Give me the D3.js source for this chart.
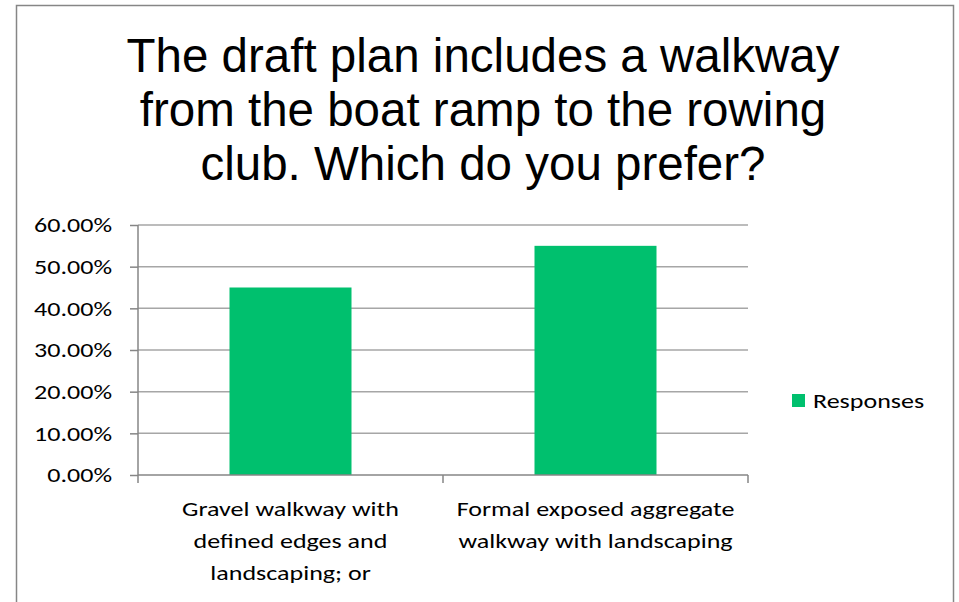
<!DOCTYPE html>
<html>
<head>
<meta charset="utf-8">
<script src="https://cdn.jsdelivr.net/npm/d3@7"></script>
<style>
  html, body { margin: 0; padding: 0; background: #fff; }
  svg { display: block; }
</style>
</head>
<body>
<svg id="chart" width="959" height="602"></svg>
<script>
const titleLines = ["The draft plan includes a walkway", "from the boat ramp to the rowing", "club. Which do you prefer?"];
const categories = ["Gravel walkway with defined edges and landscaping; or", "Formal exposed aggregate walkway with landscaping"];
const categoryLines = [["Gravel walkway with", "defined edges and", "landscaping; or"], ["Formal exposed aggregate", "walkway with landscaping"]];
const responses = [0.45, 0.55];
const yTicks = [0, 0.1, 0.2, 0.3, 0.4, 0.5, 0.6];
const seriesName = "Responses";

const svg = d3.select("#chart");
const labelFont = "Carlito, Calibri, Lato, 'Open Sans', sans-serif";
const labelSize = 21;
const hs = 1.24; // horizontal widening of label glyphs seen in the reference
const axisColor = "#868686";
const gridColor = "#a6a6a6";
const barColor = "#00c06e";

// outer border
svg.append("rect").attr("x", 16.5).attr("y", 5.5).attr("width", 937).attr("height", 610)
  .attr("fill", "#fff").attr("stroke", axisColor).attr("stroke-width", 1.5);

// title
const title = svg.append("text").attr("text-anchor", "middle")
  .attr("font-family", "'Liberation Sans', Arial, sans-serif").attr("font-size", 47.5).attr("fill", "#000");
titleLines.forEach((t, i) => {
  title.append("tspan").attr("x", 483).attr("y", 72 + i * 54).text(t);
});

const plotLeft = 138, plotRight = 748, plotTop = 225, plotBottom = 475;
const y = d3.scaleLinear().domain([0, 0.6]).range([plotBottom, plotTop]);
const x = d3.scaleBand().domain(categories).range([plotLeft, plotRight]).paddingInner(0.6).paddingOuter(0.3);

// gridlines
svg.append("g").selectAll("line").data(yTicks.filter(d => d > 0)).join("line")
  .attr("x1", plotLeft).attr("x2", plotRight)
  .attr("y1", d => y(d)).attr("y2", d => y(d))
  .attr("stroke", gridColor).attr("stroke-width", 1.5);

// bars
svg.append("g").selectAll("rect").data(responses).join("rect")
  .attr("x", (d, i) => x(categories[i]))
  .attr("width", x.bandwidth())
  .attr("y", d => y(d))
  .attr("height", d => y(0) - y(d))
  .attr("fill", barColor);

// y axis
const yAxis = d3.axisLeft(y).tickValues(yTicks).tickFormat(d3.format(".2%")).tickSize(8).tickPadding(0);
const gy = svg.append("g").attr("transform", `translate(${plotLeft},0)`).call(yAxis);
gy.select(".domain").attr("stroke", axisColor).attr("stroke-width", 1.5).attr("d", `M0,${plotTop}V${plotBottom}`);
gy.selectAll(".tick line").attr("stroke", axisColor).attr("stroke-width", 1.5);
gy.selectAll(".tick text")
  .attr("x", null)
  .attr("transform", `translate(-26,0) scale(${hs},1)`)
  .attr("font-family", labelFont).attr("font-size", labelSize).attr("fill", "#000");

// x axis
const xEdges = d3.scaleLinear().domain([0, categories.length]).range([plotLeft, plotRight]);
const gx = svg.append("g");
gx.append("line").attr("x1", plotLeft).attr("x2", plotRight).attr("y1", plotBottom).attr("y2", plotBottom)
  .attr("stroke", axisColor).attr("stroke-width", 1.5);
gx.selectAll("line.tk").data(d3.range(categories.length + 1)).join("line").attr("class", "tk")
  .attr("x1", d => xEdges(d)).attr("x2", d => xEdges(d))
  .attr("y1", plotBottom).attr("y2", plotBottom + 8)
  .attr("stroke", axisColor).attr("stroke-width", 1.5);

categories.forEach((c, i) => {
  const cx = x(c) + x.bandwidth() / 2;
  const t = gx.append("text").attr("text-anchor", "middle")
    .attr("transform", `translate(${cx},0) scale(${hs},1)`)
    .attr("font-family", labelFont).attr("font-size", labelSize).attr("fill", "#000");
  categoryLines[i].forEach((ln, j) => {
    t.append("tspan").attr("x", 0).attr("y", 516 + j * 32).text(ln);
  });
});

// legend
const lg = svg.append("g");
lg.append("rect").attr("x", 792).attr("y", 394).attr("width", 13).attr("height", 13).attr("fill", barColor);
lg.append("text").attr("transform", `translate(813,408) scale(${hs},1)`)
  .attr("font-family", labelFont).attr("font-size", labelSize).attr("fill", "#000").text(seriesName);
</script>
</body>
</html>
